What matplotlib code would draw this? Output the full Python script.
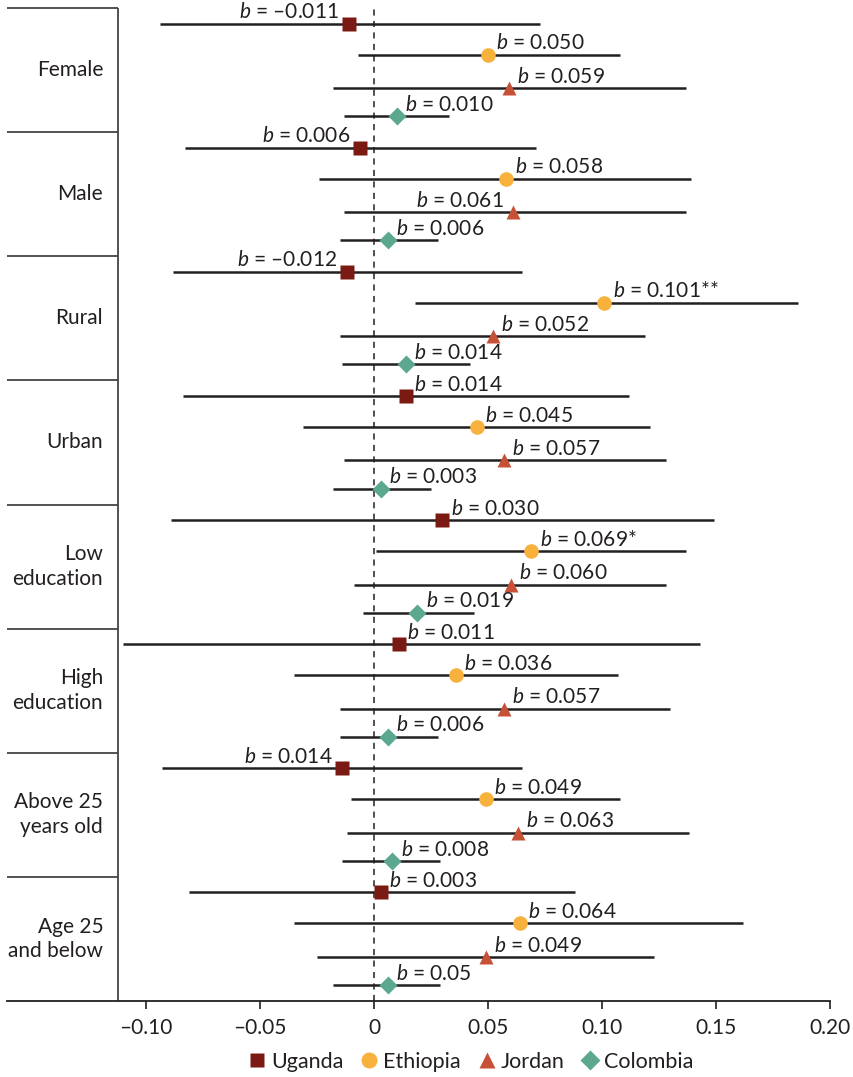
import numpy as np
import matplotlib
matplotlib.use("Agg")
import matplotlib.pyplot as plt
from matplotlib.lines import Line2D

plt.rcParams['font.family'] = ['Lato', 'DejaVu Sans']
plt.rcParams['mathtext.fontset'] = 'custom'
plt.rcParams['mathtext.rm'] = 'Lato'
plt.rcParams['mathtext.it'] = 'Lato:italic'

# subgroups, top to bottom
groups = ['Female', 'Male', 'Rural', 'Urban', 'Low\neducation', 'High\neducation',
          'Above 25\nyears old', 'Age 25\nand below']
countries = ['Uganda', 'Ethiopia', 'Jordan', 'Colombia']

# point estimates and confidence limits per country
uganda_b = [-0.011, -0.006, -0.012, 0.014, 0.030, 0.011, -0.014, 0.003]
uganda_lo = [-0.094, -0.083, -0.088, -0.084, -0.089, -0.110, -0.093, -0.081]
uganda_hi = [0.073, 0.071, 0.065, 0.112, 0.149, 0.143, 0.065, 0.088]
uganda_txt = ['–0.011', '0.006', '–0.012', '0.014', '0.030', '0.011', '0.014', '0.003']

ethiopia_b = [0.050, 0.058, 0.101, 0.045, 0.069, 0.036, 0.049, 0.064]
ethiopia_lo = [-0.007, -0.024, 0.018, -0.031, 0.001, -0.035, -0.010, -0.035]
ethiopia_hi = [0.108, 0.139, 0.186, 0.121, 0.137, 0.107, 0.108, 0.162]
ethiopia_txt = ['0.050', '0.058', '0.101**', '0.045', '0.069*', '0.036', '0.049', '0.064']

jordan_b = [0.059, 0.061, 0.052, 0.057, 0.060, 0.057, 0.063, 0.049]
jordan_lo = [-0.018, -0.013, -0.015, -0.013, -0.009, -0.015, -0.012, -0.025]
jordan_hi = [0.137, 0.137, 0.119, 0.128, 0.128, 0.130, 0.138, 0.123]
jordan_txt = ['0.059', '0.061', '0.052', '0.057', '0.060', '0.057', '0.063', '0.049']

colombia_b = [0.010, 0.006, 0.014, 0.003, 0.019, 0.006, 0.008, 0.006]
colombia_lo = [-0.013, -0.015, -0.014, -0.018, -0.005, -0.015, -0.014, -0.018]
colombia_hi = [0.033, 0.028, 0.042, 0.025, 0.044, 0.028, 0.029, 0.029]
colombia_txt = ['0.010', '0.006', '0.014', '0.003', '0.019', '0.006', '0.008', '0.05']

xticks = [-0.10, -0.05, 0, 0.05, 0.10, 0.15, 0.20]
xtick_labels = ['–0.10', '–0.05', '0', '0.05', '0.10', '0.15', '0.20']

series = [
    (uganda_b, uganda_lo, uganda_hi, uganda_txt),
    (ethiopia_b, ethiopia_lo, ethiopia_hi, ethiopia_txt),
    (jordan_b, jordan_lo, jordan_hi, jordan_txt),
    (colombia_b, colombia_lo, colombia_hi, colombia_txt),
]
colors = ['#7A1A12', '#F8B13C', '#C75137', '#5CA78F']
markers = ['s', 'o', '^', 'D']
msizes = [9.5, 10.5, 10.5, 8.8]
row_offset = [0.125, 0.375, 0.645, 0.872]
ink = '#231F20'

# labels that sit to the left of the marker: (country index, group index)
left_labels = {(0, 0), (0, 1), (0, 2), (0, 6), (2, 1)}

x_left, x_frame = -0.161, -0.1123

fig = plt.figure(figsize=(8.54, 10.77), dpi=100)
ax = fig.add_axes([7 / 854, 1 - 1001 / 1077, 823 / 854, 993 / 1077])
ax.set_xlim(x_left, 0.20)
ax.set_ylim(len(groups), 0)

for c, (b, lo, hi, txt) in enumerate(series):
    for g in range(len(groups)):
        y = g + row_offset[c]
        ax.hlines(y, lo[g], hi[g], color=ink, lw=1.8, zorder=2)
        ax.plot(b[g], y, marker=markers[c], ms=msizes[c], color=colors[c],
                mec='none', zorder=4, clip_on=False)
        s = r'$\it{b}$ = ' + txt[g]
        if (c, g) in left_labels:
            ax.annotate(s, (b[g], y), xytext=(-7, 1), textcoords='offset points',
                        ha='right', va='bottom', fontsize=15, color=ink, zorder=5)
        else:
            ax.annotate(s, (b[g], y), xytext=(6, 1), textcoords='offset points',
                        ha='left', va='bottom', fontsize=15, color=ink, zorder=5)

# zero reference
ax.axvline(0, color=ink, lw=1.1, ls=(0, (4, 3.5)), zorder=1)

# label column frame
ax.axvline(x_frame, color='#444444', lw=1.3, zorder=1)
for g in range(len(groups)):
    ax.hlines(g, x_left, x_frame, color='#444444', lw=1.3, clip_on=False)
    ax.text(x_frame - 0.0065, g + 0.5, groups[g], ha='right', va='center',
            fontsize=15, color=ink, linespacing=1.3)

for side in ['top', 'right', 'left']:
    ax.spines[side].set_visible(False)
ax.spines['bottom'].set_color(ink)
ax.spines['bottom'].set_linewidth(1.3)
ax.set_yticks([])
ax.set_xticks(xticks)
ax.set_xticklabels(xtick_labels)
ax.tick_params(axis='x', length=6, width=1.2, color=ink, labelsize=15,
               labelcolor=ink, pad=6)

handles = [Line2D([], [], ls='none', marker=markers[c], ms=msizes[c] + 1,
                  color=colors[c], mec='none') for c in range(4)]
fig.legend(handles, countries, loc='center', bbox_to_anchor=(470 / 854, 1 - 1062 / 1077),
           ncol=4, frameon=False, fontsize=15.5, handletextpad=0.15, columnspacing=0.7,
           handlelength=1.0, labelcolor=ink)

fig.savefig('out.png', dpi=100)
